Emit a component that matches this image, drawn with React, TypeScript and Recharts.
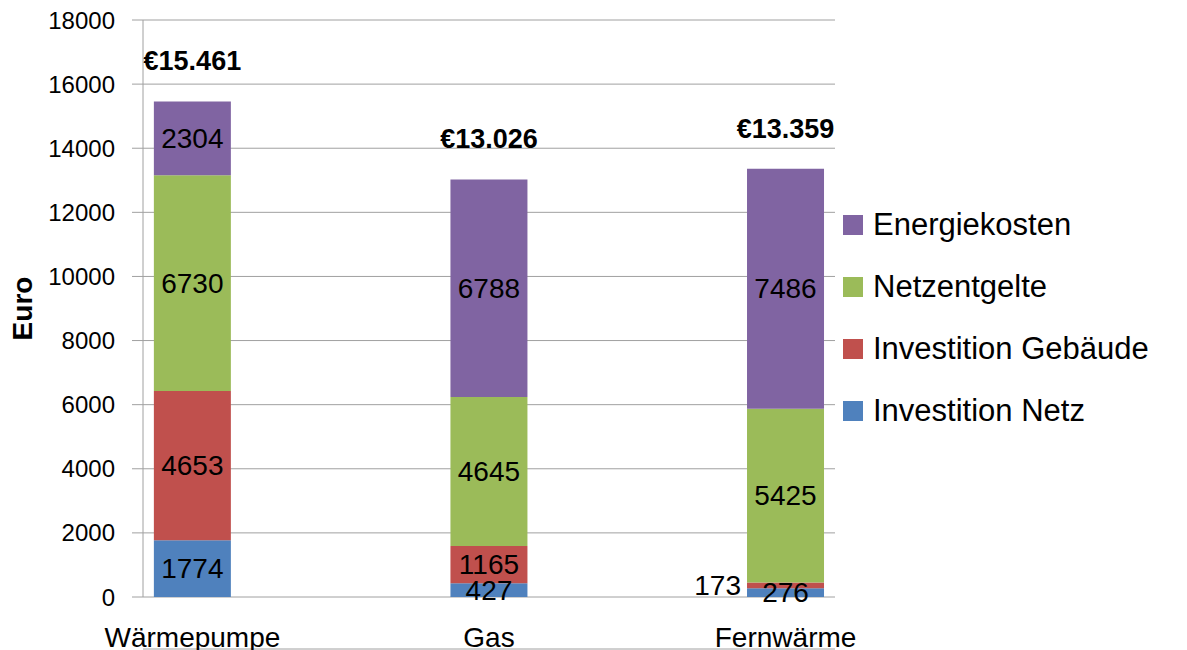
import React from "react";
import { BarChart, Bar, XAxis, YAxis, CartesianGrid, Legend, LabelList, Label } from "recharts";

// Kostenvergleich je Versorgungsvariante (Euro)
const categories = ["Wärmepumpe", "", "", "Gas", "", "", "Fernwärme"];
const investitionNetz = [1774, null, null, 427, null, null, 276];
const investitionGebaeude = [4653, null, null, 1165, null, null, 173];
const netzentgelte = [6730, null, null, 4645, null, null, 5425];
const energiekosten = [2304, null, null, 6788, null, null, 7486];
const totals = ["€15.461", "", "", "€13.026", "", "", "€13.359"];

const yTicks = [0, 2000, 4000, 6000, 8000, 10000, 12000, 14000, 16000, 18000];
const edgeTicks = [0, 1, 2, 3, 4, 5, 6, 7];

const FONT = "'Liberation Sans', Arial, sans-serif";
const GRID = "#a0a0a0";

const series = [
  { key: "netz", name: "Investition Netz", color: "#4f81bd", values: investitionNetz },
  { key: "gebaeude", name: "Investition Gebäude", color: "#c0504d", values: investitionGebaeude },
  { key: "entgelte", name: "Netzentgelte", color: "#9bbb59", values: netzentgelte },
  { key: "energie", name: "Energiekosten", color: "#8064a2", values: energiekosten },
];

const data = categories.map((name, i) => {
  const row: any = { name, total: totals[i] };
  series.forEach((s) => {
    row[s.key] = s.values[i];
  });
  return row;
});

const SegmentLabel = (props: any) => {
  const { x, y, width, height, value } = props;
  if (value == null) return null;
  // very thin segment label sits to the left of the bar
  const outside = value < 200;
  return (
    <text
      x={outside ? x - 6 : x + width / 2}
      y={y + height / 2}
      textAnchor={outside ? "end" : "middle"}
      dominantBaseline="central"
      fontSize={28}
      fontFamily={FONT}
      fill="#000"
    >
      {value}
    </text>
  );
};

const TotalLabel = (props: any) => {
  const { x, y, width, value } = props;
  if (!value) return null;
  return (
    <text
      x={x + width / 2}
      y={y - 40}
      textAnchor="middle"
      dominantBaseline="central"
      fontSize={27}
      fontWeight="bold"
      fontFamily={FONT}
      fill="#000"
    >
      {value}
    </text>
  );
};

const LegendBox = () => (
  <div style={{ fontFamily: FONT }}>
    {[...series].reverse().map((s) => (
      <div key={s.key} style={{ display: "flex", alignItems: "center", height: 62 }}>
        <span style={{ width: 20, height: 20, background: s.color, marginRight: 10, display: "inline-block" }} />
        <span style={{ fontSize: 31, color: "#000" }}>{s.name}</span>
      </div>
    ))}
  </div>
);

export default function App() {
  return (
    <div style={{ position: "absolute", left: 0, top: 0, width: 1187, height: 650, background: "#fff" }}>
      <BarChart
        width={1187}
        height={650}
        data={data}
        margin={{ top: 20, right: 12, bottom: 0, left: 0 }}
        barCategoryGap="11%"
        style={{ fontFamily: FONT }}
      >
        <CartesianGrid xAxisId="cat" vertical={false} stroke={GRID} />
        <XAxis
          xAxisId="edge"
          type="number"
          domain={[0, 7]}
          ticks={edgeTicks}
          tick={false}
          height={1}
          axisLine={{ stroke: GRID }}
          tickLine={{ stroke: GRID }}
          tickSize={10}
        />
        <XAxis
          xAxisId="cat"
          dataKey="name"
          interval={0}
          axisLine={false}
          tickLine={false}
          tickSize={10}
          tickMargin={20}
          height={52}
          tick={{ fontSize: 28, fill: "#000", fontFamily: FONT }}
        />
        <YAxis
          domain={[0, 18000]}
          ticks={yTicks}
          width={143}
          tickSize={11}
          tickMargin={17}
          axisLine={{ stroke: GRID }}
          tickLine={{ stroke: GRID }}
          tick={{ fontSize: 24, fill: "#000", fontFamily: FONT }}
        >
          <Label
            content={({ viewBox }: any) => {
              const cy = viewBox.y + viewBox.height / 2;
              return (
                <text
                  x={22}
                  y={cy}
                  transform={`rotate(-90, 22, ${cy})`}
                  textAnchor="middle"
                  dominantBaseline="central"
                  fontSize={28}
                  fontWeight="bold"
                  fontFamily={FONT}
                  fill="#000"
                >
                  Euro
                </text>
              );
            }}
          />
        </YAxis>
        <Legend
          layout="vertical"
          align="right"
          verticalAlign="middle"
          content={() => <LegendBox />}
          wrapperStyle={{ left: 843, top: 194, width: 340 }}
        />
        {series.map((s) => (
          <Bar
            key={s.key}
            xAxisId="cat"
            dataKey={s.key}
            name={s.name}
            stackId="a"
            fill={s.color}
            isAnimationActive={false}
          >
            <LabelList dataKey={s.key} content={SegmentLabel} />
            {s.key === "energie" && <LabelList dataKey="total" content={TotalLabel} />}
          </Bar>
        ))}
      </BarChart>
    </div>
  );
}
